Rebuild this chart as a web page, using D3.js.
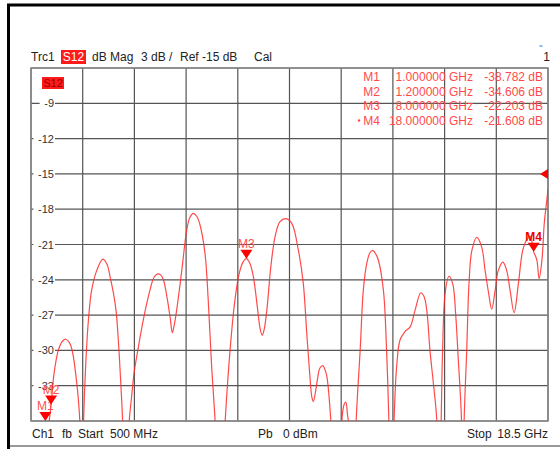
<!DOCTYPE html>
<html>
<head>
<meta charset="utf-8">
<script src="https://cdn.jsdelivr.net/npm/d3@7"></script>
<style>
body { margin: 0; background: #fff; }
svg { display: block; font-family: "Liberation Sans", Arial, sans-serif; }
</style>
</head>
<body>
<div id="vna"></div>
<script>
var W = 560, H = 449;

// trace data (GHz, dB)
var freqGHz = [0.5, 0.8, 1.0, 1.2, 1.3, 1.45, 1.6, 1.71, 1.85, 1.95, 2.08, 2.15, 2.22, 2.27, 2.32, 2.4, 2.5, 2.61, 2.79, 3.0,
	3.15, 3.25, 3.36, 3.46, 3.55, 3.62, 3.69, 3.8, 3.92, 4.0, 4.09, 4.24, 4.41, 4.64, 4.78, 4.91, 5.02, 5.11, 5.25, 5.35,
	5.42, 5.49, 5.57, 5.75, 5.92, 6.03, 6.15, 6.27, 6.38, 6.56, 6.67, 6.79, 6.91, 7.08, 7.26, 7.43, 7.6, 7.75, 7.88, 8.0,
	8.12, 8.24, 8.38, 8.48, 8.55, 8.62, 8.71, 8.85, 9.0, 9.17, 9.38, 9.58, 9.81, 9.98, 10.1, 10.21, 10.28, 10.33, 10.4, 10.47,
	10.56, 10.66, 10.73, 10.8, 10.94, 11.1, 11.32, 11.4, 11.46, 11.52, 11.55, 11.7, 11.82, 11.96, 12.07, 12.19, 12.3, 12.4, 12.5, 12.59,
	12.77, 12.88, 12.96, 13.05, 13.14, 13.23, 13.35, 13.52, 13.7, 13.87, 14.07, 14.18, 14.28, 14.39, 14.51, 14.63, 14.7, 14.78, 14.83, 14.92,
	15.05, 15.18, 15.29, 15.37, 15.49, 15.53, 15.58, 15.67, 15.75, 15.85, 16.02, 16.19, 16.31, 16.43, 16.54, 16.66, 16.77, 16.93, 17.06, 17.18,
	17.32, 17.47, 17.62, 17.76, 17.88, 18.0, 18.11, 18.19, 18.29, 18.37, 18.46, 18.5];
var s12dB = [-48, -44, -38.78, -34.61, -32.0, -30.0, -29.2, -29.05, -29.4, -30.2, -32.5, -34.2, -37, -45, -37, -31.5, -27.4, -24.9, -23.2, -22.25,
	-22.7, -23.7, -25.0, -26.6, -29.5, -32.5, -36, -45, -36, -34, -31.9, -29.7, -27.4, -24.9, -23.8, -23.5, -23.6, -24.0, -25.7, -27.3,
	-28.5, -27.8, -26.6, -23.2, -19.8, -18.7, -18.35, -18.6, -19.3, -21.8, -25.7, -31.4, -36, -45, -36, -30, -25.7, -23.45, -22.5, -22.2,
	-22.6, -23.7, -26.3, -28.2, -28.7, -28.2, -26.6, -22.9, -20.3, -19.06, -18.8, -19.2, -21.5, -24.3, -28.5, -32.2, -34.0, -34.35, -33.6, -32.5,
	-31.5, -31.3, -31.6, -32.2, -36, -45, -36, -34.6, -34.4, -35.5, -36, -45, -36, -30, -24.9, -22.6, -21.7, -21.5, -21.8, -22.3,
	-24.9, -30, -36, -45, -36, -31.4, -29.1, -28.4, -28.0, -26.6, -25.1, -25.4, -26.6, -30, -32.8, -36, -45, -36, -30, -25.1,
	-23.7, -24.3, -27.1, -30.5, -36, -45, -36, -30, -24.3, -21.5, -20.4, -21.2, -23.2, -25.1, -26.5, -24.9, -23.2, -22.5, -23.2, -24.9,
	-26.8, -24.3, -21.5, -20.6, -20.3, -21.6, -22.3, -23.9, -22.3, -19.2, -17.2, -16.3];

var yTicks = [-9, -12, -15, -18, -21, -24, -27, -30, -33];
var markerNames = ["M1", "M2", "M3", "M4"];
var markerFreq = [1.0, 1.2, 8.0, 18.0];
var markerDB = [-38.782, -34.606, -22.203, -21.608];
var refLevel = -15;

var red = "#ff2a2a";
var grid = "#555";

var x = d3.scaleLinear().domain([0.5, 18.5]).range([31, 548]);
var y = d3.scaleLinear().domain([-36, -6]).range([421, 68]);

var svg = d3.select("#vna").append("svg")
	.attr("width", W)
	.attr("height", H);

// outer frame
svg.append("line").attr("x1", 7).attr("y1", 5).attr("x2", W).attr("y2", 5)
	.attr("stroke", "#000").attr("stroke-width", 3);
svg.append("line").attr("x1", 8.5).attr("y1", 4).attr("x2", 8.5).attr("y2", H)
	.attr("stroke", "#000").attr("stroke-width", 3);
svg.append("line").attr("x1", 10).attr("y1", 446).attr("x2", W).attr("y2", 446)
	.attr("stroke", "#777").attr("stroke-width", 1.5);

// grid
var xs = d3.range(11).map(i => 0.5 + i * 1.8);
var ys = d3.range(11).map(i => -36 + i * 3);

svg.append("g").selectAll("line")
	.data(xs)
	.enter()
	.append("line")
	.attr("x1", d => x(d))
	.attr("x2", d => x(d))
	.attr("y1", y(-6))
	.attr("y2", y(-36))
	.attr("stroke", grid)
	.attr("stroke-width", 1.2);

svg.append("g").selectAll("line")
	.data(ys)
	.enter()
	.append("line")
	.attr("x1", x(0.5))
	.attr("x2", x(18.5))
	.attr("y1", d => y(d))
	.attr("y2", d => y(d))
	.attr("stroke", grid)
	.attr("stroke-width", 1.2);

svg.append("rect")
	.attr("x", x(0.5)).attr("y", y(-6))
	.attr("width", x(18.5) - x(0.5)).attr("height", y(-36) - y(-6))
	.attr("fill", "none").attr("stroke", "#888").attr("stroke-width", 1.5);

// y tick labels sitting on the grid
var tl = svg.append("g").selectAll("g")
	.data(yTicks)
	.enter()
	.append("g");
tl.append("rect")
	.attr("x", d => 54 - (String(d).length * 6.2) - 2)
	.attr("y", d => y(d) - 6)
	.attr("width", d => String(d).length * 6.2 + 3)
	.attr("height", 12)
	.attr("fill", "#fff");
tl.append("text")
	.attr("x", 54)
	.attr("y", d => y(d) + 4)
	.attr("text-anchor", "end")
	.style("font-size", "11px")
	.attr("fill", "#333")
	.text(d => d);

// trace
svg.append("clipPath").attr("id", "clip")
	.append("rect")
	.attr("x", x(0.5)).attr("y", y(-6))
	.attr("width", x(18.5) - x(0.5)).attr("height", y(-36) - y(-6));

var line = d3.line()
	.x(d => x(d[0]))
	.y(d => y(d[1]))
	.curve(d3.curveCatmullRom.alpha(0.5));

svg.append("path")
	.datum(freqGHz.map((f, i) => [f, s12dB[i]]))
	.attr("clip-path", "url(#clip)")
	.attr("d", line)
	.attr("fill", "none")
	.attr("stroke", red)
	.attr("stroke-opacity", 0.85)
	.attr("stroke-width", 1.2);

// header
function txt(t, px, py, opts) {
	opts = opts || {};
	return svg.append("text")
		.attr("x", px)
		.attr("y", py)
		.attr("text-anchor", opts.anchor || "start")
		.style("font-size", (opts.size || 12) + "px")
		.style("font-weight", opts.weight || "normal")
		.attr("fill", opts.fill || "#222")
		.text(t);
}

txt("Trc1", 31, 61);
svg.append("rect").attr("x", 61).attr("y", 50).attr("width", 25).attr("height", 14).attr("fill", "#ff1a1a");
txt("S12", 73.5, 61, {anchor: "middle", fill: "#fff"});
txt("dB Mag", 92, 61);
txt("3 dB /", 141, 61);
txt("Ref -15 dB", 180, 61);
txt("Cal", 254, 61);
txt("1", 550, 61, {anchor: "end"});
svg.append("line").attr("x1", 539.5).attr("x2", 542.5).attr("y1", 46).attr("y2", 46)
	.attr("stroke", "#3a8ee6").attr("stroke-width", 1.2);

// S12 tag inside the plot
svg.append("rect").attr("x", 42).attr("y", 77).attr("width", 22).attr("height", 12).attr("fill", "#ff1a1a");
txt("S12", 53, 87, {anchor: "middle", fill: "#9a0000", size: 11});

// marker table
var rowY = [81, 95.5, 110, 124.5];
markerNames.forEach(function(m, i) {
	txt(m, 380, rowY[i], {anchor: "end", fill: "#ff4a4a"});
	txt(markerFreq[i].toFixed(6) + " GHz", 473, rowY[i], {anchor: "end", fill: "#ff4a4a"});
	txt(markerDB[i].toFixed(3) + " dB", 543, rowY[i], {anchor: "end", fill: "#ff4a4a"});
});
svg.append("circle").attr("cx", 359).attr("cy", rowY[3] - 4).attr("r", 1.2).attr("fill", "#ff4a4a");

// markers on the trace
markerNames.forEach(function(m, i) {
	var mx = x(markerFreq[i]);
	var my = y(Math.max(markerDB[i], -36));
	svg.append("path")
		.attr("d", "M" + (mx - 6) + "," + (my - 9) + "L" + (mx + 6) + "," + (my - 9) + "L" + mx + "," + my + "Z")
		.attr("fill", "#ff0000");
	txt(m, mx, my - 11, {anchor: "middle", fill: i === 3 ? "#ee0000" : "#ff5050", size: 12, weight: i === 3 ? "bold" : "normal"});
});

// reference level arrow
var ry = y(refLevel);
var rx = x(18.5);
svg.append("path")
	.attr("d", "M" + (rx - 8) + "," + ry + "L" + rx + "," + (ry - 5) + "L" + rx + "," + (ry + 5) + "Z")
	.attr("fill", "#ff0000");

// footer
txt("Ch1", 32, 438);
txt("fb", 62, 438);
txt("Start", 78, 438);
txt("500 MHz", 110, 438);
txt("Pb", 258, 438);
txt("0 dBm", 283, 438);
txt("Stop", 467, 438);
txt("18.5 GHz", 548, 438, {anchor: "end"});
</script>
</body>
</html>
